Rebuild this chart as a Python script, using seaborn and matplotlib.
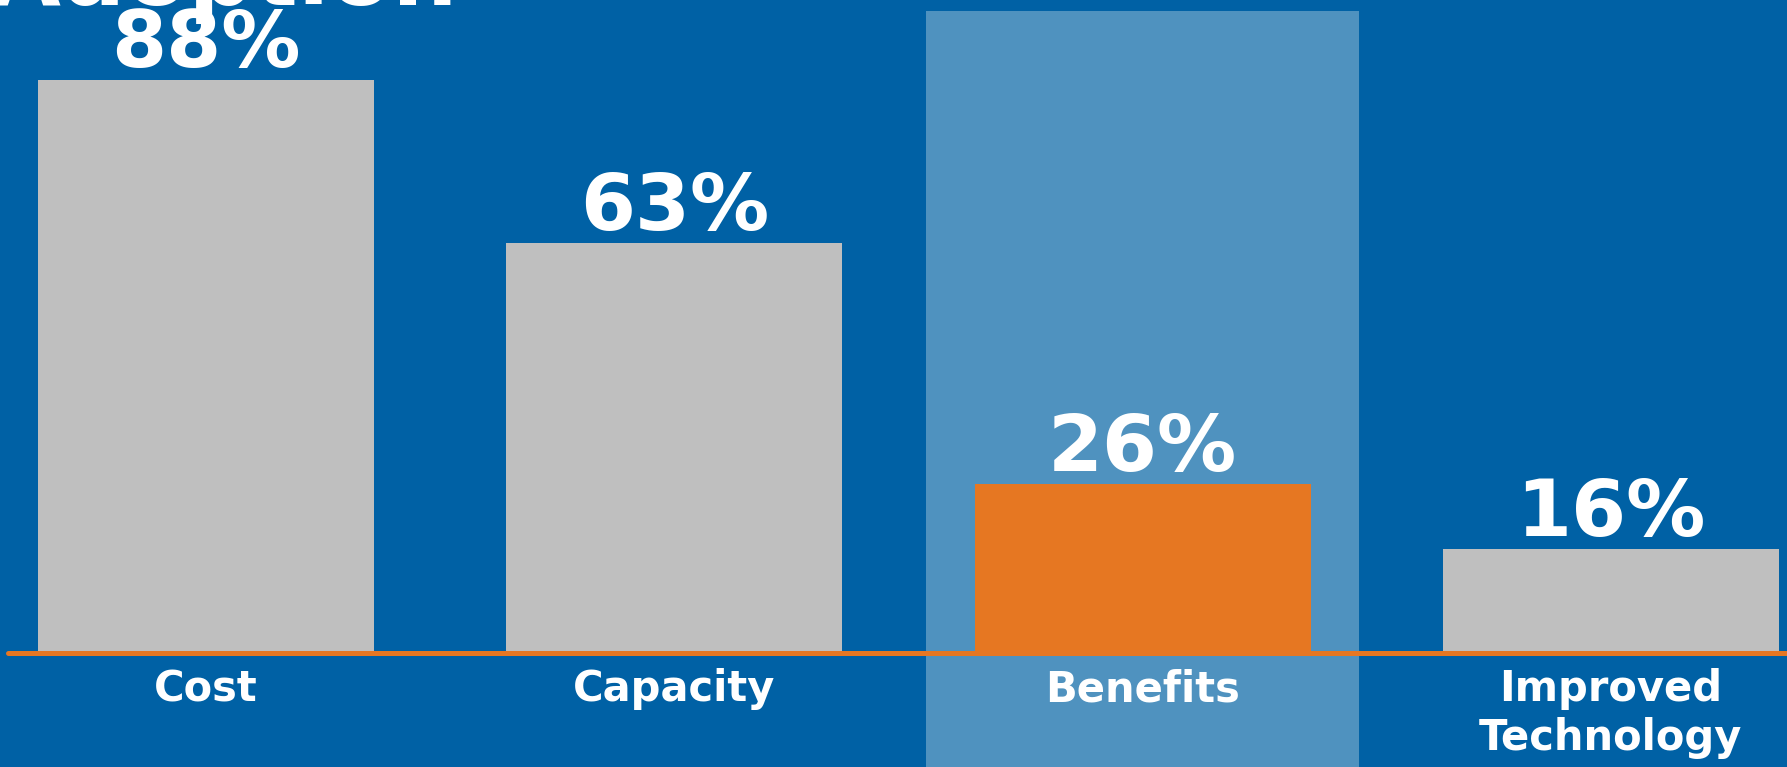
import numpy as np
import pandas as pd
import matplotlib
matplotlib.use("Agg")
import matplotlib.pyplot as plt
import seaborn as sns

# ========================= Chart data =========================
categories = ["Cost", "Capacity", "Benefits", "Improved\nTechnology"]
values = [88, 63, 26, 16]
labels = ["88%", "63%", "26%", "16%"]
highlight = "Benefits"
title_text = "Adoption"

# ========================= Colours =========================
BG = "#0061A5"
BAND = "#4F92BF"
GRAY = "#BFBFBF"
ORANGE = "#E67722"
WHITE = "#FFFFFF"

df = pd.DataFrame({"category": categories, "value": values})
palette = {c: (ORANGE if c == highlight else GRAY) for c in categories}

sns.set_theme(style="white")
plt.rcParams["font.family"] = ["DejaVu Sans"]

W, H = 1787, 767
fig = plt.figure(figsize=(W / 100, H / 100), dpi=100, facecolor=BG)
ax = fig.add_axes([8 / W, 114 / H, (W - 8) / W, 651 / H])
ax.set_facecolor(BG)

# highlight band behind the Benefits column
hi = categories.index(highlight)
ax.axvspan(hi - 0.463, hi + 0.463, ymin=-0.2, ymax=0.986, color=BAND, lw=0, zorder=0, clip_on=False)

sns.barplot(data=df, x="category", y="value", hue="category", palette=palette,
            width=0.7175, legend=False, ax=ax, zorder=2, saturation=1, linewidth=0)

ax.axhline(0, color=ORANGE, lw=3.6, zorder=3, clip_on=False)

for i, (v, lab) in enumerate(zip(values, labels)):
    ax.text(i, v + 2.0, lab, ha="center", va="baseline", color=WHITE,
            fontsize=57, fontweight="bold", zorder=4)

ax.set_xlim(-0.423, 3.376)
ax.set_ylim(0, 100)
ax.set_xlabel("")
ax.set_ylabel("")
ax.set_yticks([])
ax.tick_params(axis="x", length=0, pad=11, colors=WHITE)
for t in ax.get_xticklabels():
    t.set_fontsize(30)
    t.set_fontweight("bold")
    t.set_color(WHITE)
    t.set_linespacing(1.2)
sns.despine(ax=ax, left=True, bottom=True)

# title, cut off at the top of the slide
fig.text(-0.006, 1 - 5 / H, title_text, ha="left", va="baseline", color=WHITE,
         fontsize=66, fontweight="bold")

fig.savefig("out.png", dpi=100, facecolor=BG)
